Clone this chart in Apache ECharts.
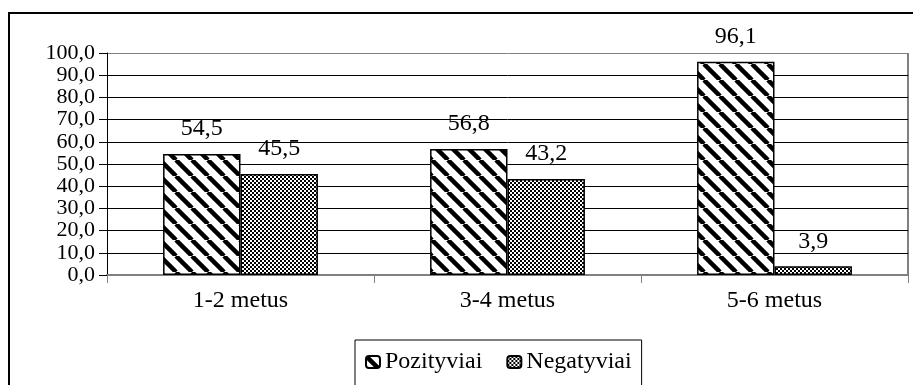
<!DOCTYPE html>
<html>
<head>
<meta charset="utf-8">
<script src="https://cdn.jsdelivr.net/npm/echarts@6/dist/echarts.min.js"></script>
<style>
  html, body { margin: 0; padding: 0; background: #fff; }
  #chart { width: 913px; height: 385px; }
</style>
</head>
<body>
<div id="chart"></div>
<script>
const categories = ['1-2 metus', '3-4 metus', '5-6 metus']
const seriesNames = ['Pozityviai', 'Negatyviai']
const pozityviai = [54.5, 56.8, 96.1]
const negatyviai = [45.5, 43.2, 3.9]
const yTicks = { min: 0, max: 100, interval: 10 }

const FONT = '"Liberation Serif", "Times New Roman", serif'

// stripe fill (diagonal \)
function stripePattern() {
  const s = 16
  const c = document.createElement('canvas')
  c.width = s
  c.height = s
  const ctx = c.getContext('2d')
  ctx.fillStyle = '#fff'
  ctx.fillRect(0, 0, s, s)
  ctx.strokeStyle = '#000'
  ctx.lineWidth = 4.5
  for (const o of [-s, 0, s]) {
    ctx.beginPath()
    ctx.moveTo(o, 0)
    ctx.lineTo(o + s, s)
    ctx.stroke()
  }
  return c
}

// fine checker fill
function checkerPattern() {
  const c = document.createElement('canvas')
  c.width = 4
  c.height = 4
  const ctx = c.getContext('2d')
  ctx.fillStyle = '#fff'
  ctx.fillRect(0, 0, 4, 4)
  ctx.fillStyle = '#000'
  ctx.fillRect(0, 0, 2, 2)
  ctx.fillRect(2, 2, 2, 2)
  return c
}

const fmt = v => Number(v).toFixed(1).replace('.', ',')

const splitColors = []
for (let i = 0; i < 10; i++) splitColors.push('#000')
splitColors.push('#808080')

const chart = echarts.init(document.getElementById('chart'))
const option = {
  animation: false,
  textStyle: { fontFamily: FONT },
  graphic: [
    {
      type: 'rect',
      shape: { x: 9, y: 13, width: 930, height: 400 },
      style: { fill: 'none', stroke: '#000', lineWidth: 2 },
      silent: true
    },
    {
      type: 'line',
      shape: { x1: 908, y1: 53, x2: 908, y2: 275 },
      style: { stroke: '#808080', lineWidth: 2 },
      silent: true
    }
  ],
  grid: {
    left: 107,
    right: 5,
    top: 53,
    bottom: 110
  },
  legend: {
    data: seriesNames,
    left: 355,
    top: 340,
    padding: [10, 10, 30, 10],
    itemGap: 24,
    itemWidth: 14,
    itemHeight: 12,
    borderColor: '#000',
    borderWidth: 1,
    textStyle: { fontFamily: FONT, fontSize: 24, color: '#000', padding: [3, 0, 0, 0] }
  },
  xAxis: {
    type: 'category',
    data: categories,
    axisLine: { lineStyle: { color: '#808080', width: 2 } },
    axisTick: { show: true, length: 8, lineStyle: { color: '#808080' } },
    axisLabel: { fontFamily: FONT, fontSize: 24, color: '#000', margin: 14 }
  },
  yAxis: {
    type: 'value',
    min: yTicks.min,
    max: yTicks.max,
    interval: yTicks.interval,
    axisLine: { show: true, lineStyle: { color: '#000', width: 1 } },
    axisTick: { show: true, length: 8, lineStyle: { color: '#000' } },
    axisLabel: {
      fontFamily: FONT,
      fontSize: 22,
      color: '#000',
      margin: 12,
      lineHeight: 20,
      showMinLabel: true,
      showMaxLabel: true,
      hideOverlap: false,
      formatter: fmt
    },
    splitLine: { lineStyle: { color: splitColors, width: 1 } }
  },
  series: [
    {
      name: seriesNames[0],
      type: 'bar',
      data: pozityviai,
      barGap: '0%',
      barCategoryGap: '42%',
      itemStyle: {
        color: { image: stripePattern(), repeat: 'repeat' },
        borderColor: '#000',
        borderWidth: 1.5
      },
      label: {
        show: true,
        position: 'top',
        distance: 13,
        fontFamily: FONT,
        fontSize: 24,
        color: '#000',
        formatter: p => fmt(p.value)
      }
    },
    {
      name: seriesNames[1],
      type: 'bar',
      data: negatyviai,
      itemStyle: {
        color: { image: checkerPattern(), repeat: 'repeat' },
        borderColor: '#000',
        borderWidth: 1.5
      },
      label: {
        show: true,
        position: 'top',
        distance: 13,
        fontFamily: FONT,
        fontSize: 24,
        color: '#000',
        formatter: p => fmt(p.value)
      }
    }
  ]
}
chart.setOption(option)
</script>
</body>
</html>
